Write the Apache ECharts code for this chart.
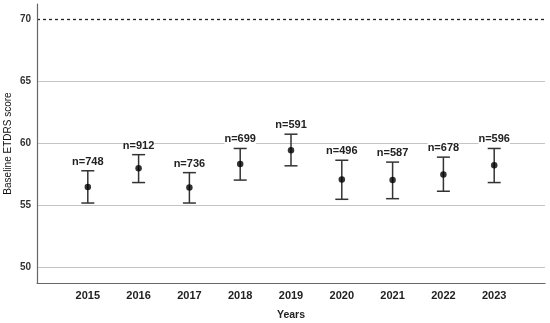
<!DOCTYPE html>
<html><head><meta charset="utf-8">
<script src="https://cdn.jsdelivr.net/npm/echarts@6/dist/echarts.min.js"></script>
<style>html,body{margin:0;padding:0;background:#fff}#c{width:550px;height:323px}</style>
</head><body><div id="c"></div>
<script>
const years = [2015, 2016, 2017, 2018, 2019, 2020, 2021, 2022, 2023];
const means = [56.5, 58.0, 56.45, 58.35, 59.45, 57.1, 57.05, 57.5, 58.25];
const lower = [55.2, 56.85, 55.2, 57.05, 58.2, 55.5, 55.55, 56.15, 56.85];
const upper = [57.8, 59.1, 57.65, 59.6, 60.75, 58.65, 58.5, 58.9, 59.6];
const nLabels = ['n=748', 'n=912', 'n=736', 'n=699', 'n=591', 'n=496', 'n=587', 'n=678', 'n=596'];
const gridValues = [50, 55, 60, 65];
const refValue = 70;

const chart = echarts.init(document.getElementById('c'));
const FONT = 'Liberation Sans, Arial, sans-serif';
chart.setOption({
  animation: false,
  grid: {left: 37, right: 5, top: 4, bottom: 40, containLabel: false, outerBoundsMode: 'none'},
  xAxis: {
    type: 'value', min: 2014, max: 2024, interval: 1,
    name: 'Years', nameLocation: 'middle', nameGap: 27, nameMoveOverlap: false,
    nameTextStyle: {fontFamily: FONT, fontSize: 10.5, fontWeight: 'bold', color: '#222'},
    axisLine: {show: true, lineStyle: {color: '#666', width: 1.2}},
    axisTick: {show: false},
    splitLine: {show: false},
    axisLabel: {
      fontFamily: FONT, fontSize: 11, fontWeight: 'bold', color: '#222', margin: 7,
      formatter: v => (years.indexOf(v) >= 0 ? String(v) : '')
    }
  },
  yAxis: {
    type: 'value', min: 48.75, max: 71.25, interval: 1.25,
    name: 'Baseline ETDRS score', nameLocation: 'middle', nameGap: 24, nameMoveOverlap: false,
    nameTextStyle: {fontFamily: FONT, fontSize: 10, color: '#111'},
    axisLine: {show: true, lineStyle: {color: '#666', width: 1.2}},
    axisTick: {show: false},
    splitLine: {show: false},
    axisLabel: {
      fontFamily: FONT, fontSize: 10, fontWeight: 'bold', color: '#333', margin: 6,
      formatter: v => (Math.abs(v % 5) < 1e-6 ? String(v) : '')
    }
  },
  series: [
    {
      type: 'line', data: [], silent: true, z: 0,
      markLine: {
        symbol: 'none', silent: true, label: {show: false}, z: 0,
        data: gridValues.map(v => ({yAxis: v, lineStyle: {color: '#c4c4c4', width: 1, type: 'solid'}}))
          .concat([{yAxis: refValue, lineStyle: {color: '#222', width: 1.3, type: [3, 3]}}])
      }
    },
    {
      type: 'custom', z: 4,
      data: years.map((y, i) => [y, lower[i], upper[i], i]),
      renderItem: function (params, api) {
        const x = api.value(0);
        const lo = api.coord([x, api.value(1)]);
        const hi = api.coord([x, api.value(2)]);
        const idx = api.value(3);
        const hw = 6.5;
        const st = {stroke: '#333', lineWidth: 1.5};
        return {
          type: 'group',
          children: [
            {type: 'line', shape: {x1: lo[0], y1: lo[1], x2: hi[0], y2: hi[1]}, style: st},
            {type: 'line', shape: {x1: lo[0] - hw, y1: lo[1], x2: lo[0] + hw, y2: lo[1]}, style: st},
            {type: 'line', shape: {x1: hi[0] - hw, y1: hi[1], x2: hi[0] + hw, y2: hi[1]}, style: st},
            {type: 'text', x: hi[0], y: hi[1] - 9,
              style: {text: nLabels[idx], fontFamily: FONT, fontSize: 11, fontWeight: 'bold', fill: '#222',
                align: 'center', verticalAlign: 'middle', backgroundColor: '#fff'}}
          ]
        };
      }
    },
    {
      type: 'scatter', symbol: 'circle', symbolSize: 6.5,
      itemStyle: {color: '#000'},
      data: years.map((y, i) => [y, means[i]]),
      z: 5
    }
  ]
});
</script></body></html>
